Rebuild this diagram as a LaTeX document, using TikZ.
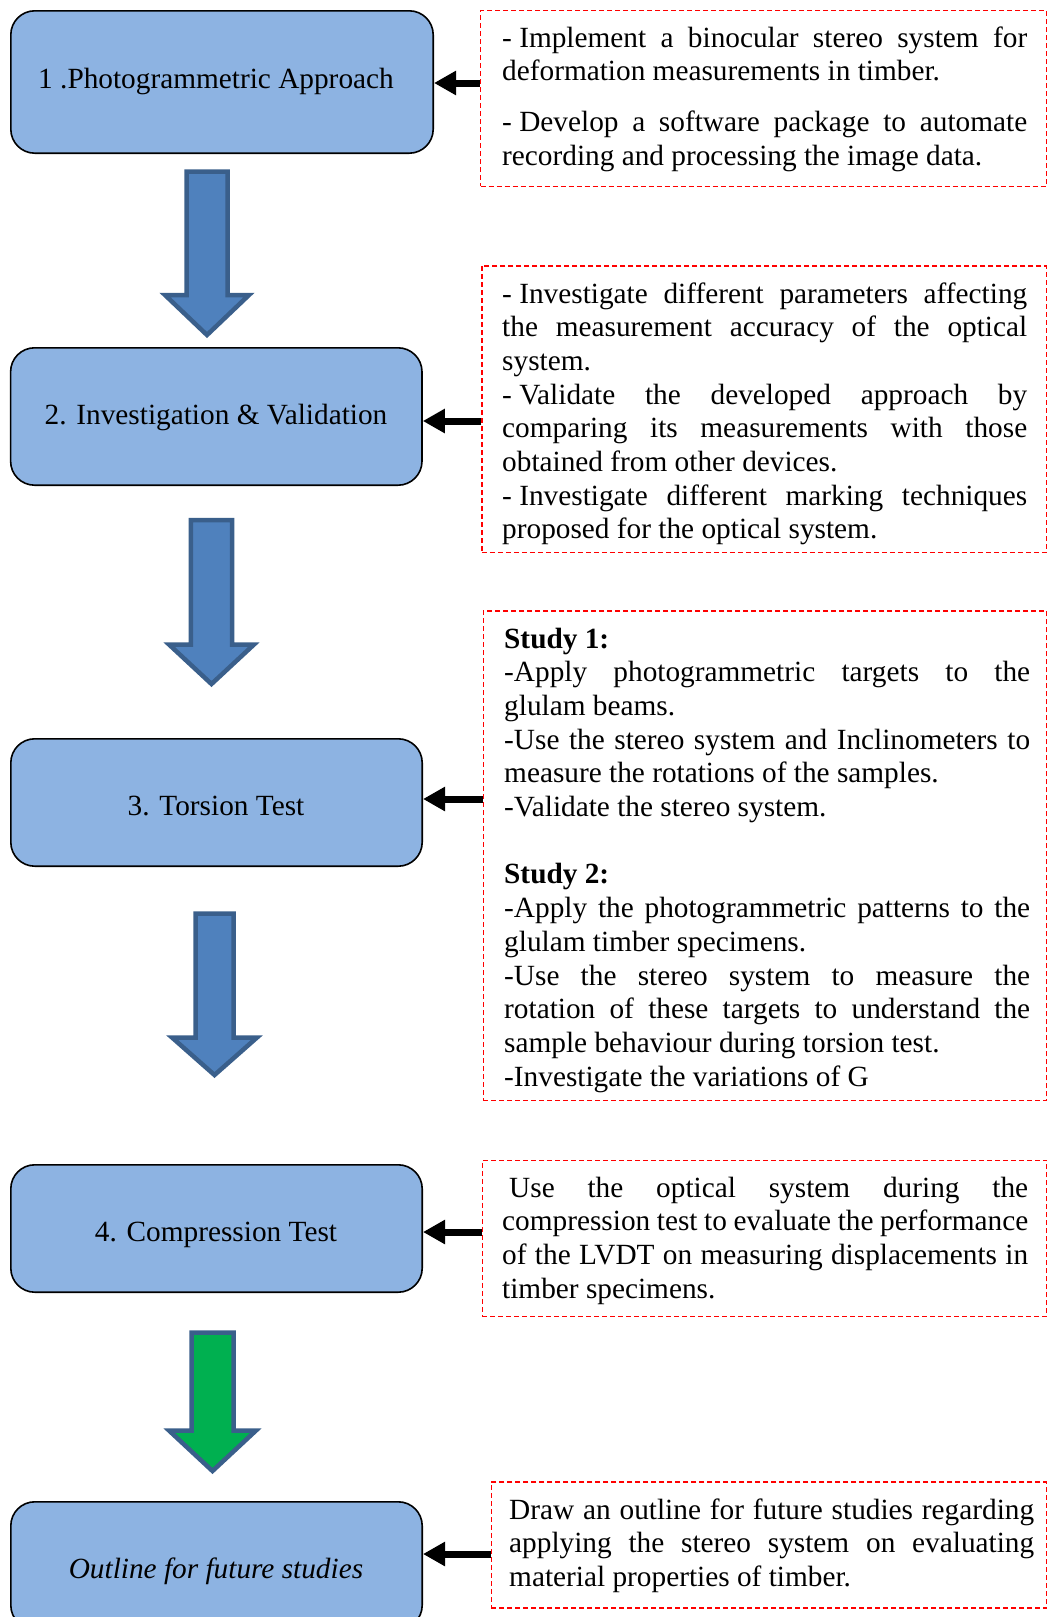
\documentclass[tikz,border=0pt]{standalone}
\usepackage{fontspec}
\setmainfont{Liberation Serif}
\usetikzlibrary{arrows.meta,calc}
\definecolor{boxblue}{HTML}{8DB3E2}
\definecolor{arrowblue}{HTML}{4F81BD}
\definecolor{arrowedge}{HTML}{3A5F8B}
\definecolor{arrowgreen}{HTML}{00B050}
\hyphenpenalty=10000 \exhyphenpenalty=10000 \tolerance=10000 \hbadness=10000
\newcommand{\notefont}{\fontsize{29.3}{33.7}\selectfont\frenchspacing
  \spaceskip=0.25em plus 0.6em minus 0.1em\relax
  \xspaceskip=0.25em plus 0.6em minus 0.1em\relax}
\newcommand{\dsh}{-\hspace{0.25em}}
\begin{document}
\begin{tikzpicture}[x=1pt,y=-1pt,
  stage/.style={draw=black, line width=1.6pt, fill=boxblue, rounded corners=24pt, inner sep=0pt, minimum width=411.4pt, minimum height=127.4pt},
  stagetext/.style={anchor=base, inner sep=0pt, font=\fontsize{29.3}{33.7}\selectfont},
  notebox/.style={draw=red, line width=1.1pt, dash pattern=on 5pt off 3pt, inner sep=0pt},
  notetext/.style={anchor=base west, inner sep=0pt, text width=#1, align=justify, font=\notefont},
  conn/.style={line width=7pt, -{Triangle[length=22pt,width=23pt]}},
  blockarrow/.style={draw=arrowedge, line width=4.5pt, fill=arrowblue, line join=miter},
]
\useasboundingbox (0,0) rectangle (1049,1617);
\clip (0,0) rectangle (1049,1617);

% stage boxes
\node[stage, minimum width=422.4pt, minimum height=142.4pt] (b1) at (222,82) {};
\node[stage, minimum height=137.4pt] (b2) at (216.3,416.5) {};
\node[stage] (b3) at (216.5,802.5) {};
\node[stage] (b4) at (216.5,1228.5) {};
\node[stage] (b5) at (216.5,1565.5) {};

\node[stagetext] (t1) at (216,88) {1 .Photogrammetric Approach};
\node[stagetext] (t2) at (216,424) {2. Investigation \& Validation};
\node[stagetext] (t3) at (216,815) {3. Torsion Test};
\node[stagetext] (t4) at (216,1241) {4. Compression Test};
\node[stagetext] (t5) at (216,1578) {\itshape Outline for future studies};

% block arrows
\draw[blockarrow] (186.5,171.5) -- (227.5,171.5) -- (227.5,295) -- (249,295) -- (207,335) -- (165,295) -- (186.5,295) -- cycle;
\draw[blockarrow] (190.8,520) -- (232.2,520) -- (232.2,644.5) -- (254,644.5) -- (211.5,684) -- (169,644.5) -- (190.8,644.5) -- cycle;
\draw[blockarrow] (195.5,913.5) -- (233.5,913.5) -- (233.5,1037.5) -- (257,1037.5) -- (214.5,1075) -- (172,1037.5) -- (195.5,1037.5) -- cycle;
\draw[blockarrow, fill=arrowgreen] (191.5,1332.5) -- (233.5,1332.5) -- (233.5,1430.5) -- (256,1430.5) -- (212.5,1471) -- (169,1430.5) -- (191.5,1430.5) -- cycle;

% note boxes
\node[notebox, minimum width=566pt, minimum height=175.5pt] (d1) at (763.5,98.3) {};
\node[notebox, minimum width=564.5pt, minimum height=286.5pt] (d2) at (764.2,409.2) {};
\node[notebox, minimum width=563.5pt, minimum height=489.8pt] (d3) at (765,855.9) {};
\node[notebox, minimum width=564.5pt, minimum height=156.5pt] (d4) at (764.5,1238.5) {};
\node[notebox, minimum width=555.5pt, minimum height=126pt] (d5) at (769,1545) {};

\node[notetext=525pt] (n1) at (502,47) {%
\dsh Implement a binocular stereo system for\linebreak
deformation measurements in timber.\\[17.3pt]
\dsh Develop a software package to automate\linebreak
recording and processing the image data.};

\node[notetext=525pt] (n2) at (502,303) {%
\dsh Investigate different parameters affecting\linebreak
the measurement accuracy of the optical\linebreak
system.\\
\dsh Validate the developed approach by\linebreak
comparing its measurements with those\linebreak
obtained from other devices.\\
\dsh Investigate different marking techniques\linebreak
proposed for the optical system.};

\node[notetext=526pt] (n3) at (504,648) {%
\textbf{Study 1:}\\
-Apply photogrammetric targets to the\linebreak
glulam beams.\\
-Use the stereo system and Inclinometers to\linebreak
measure the rotations of the samples.\\
-Validate the stereo system.\\[33.7pt]
\textbf{Study 2:}\\
-Apply the photogrammetric patterns to the\linebreak
glulam timber specimens.\\
-Use the stereo system to measure the\linebreak
rotation of these targets to understand the\linebreak
sample behaviour during torsion test.\\
-Investigate the variations of G};

\node[notetext=526pt] (n4) at (502,1197) {%
\hspace*{7pt}Use the optical system during the\linebreak
compression test to evaluate the performance\linebreak
of the LVDT on measuring displacements in\linebreak
timber specimens.};

\node[notetext=525pt] (n5) at (509,1519) {%
Draw an outline for future studies regarding\linebreak
applying the stereo system on evaluating\linebreak
material properties of timber.};

% connectors
\draw[conn] ($(d1.west |- b1.east)+(0,1)$) -- ($(b1.east)+(0,1)$);
\draw[conn] ($(d2.west |- b2.east)+(0,4.5)$) -- ($(b2.east)+(0,4.5)$);
\draw[conn] ($(d3.west |- b3.east)+(0,-3.5)$) -- ($(b3.east)+(0,-3.5)$);
\draw[conn] ($(d4.west |- b4.east)+(0,3.5)$) -- ($(b4.east)+(0,3.5)$);
\draw[conn] ($(d5.west |- b5.east)+(0,-11.5)$) -- ($(b5.east)+(0,-11.5)$);
\end{tikzpicture}
\end{document}
